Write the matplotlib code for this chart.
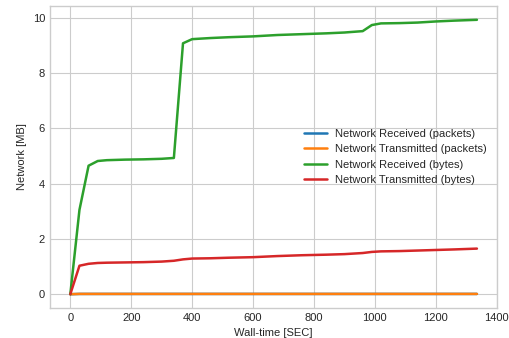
import matplotlib
matplotlib.use("Agg")
import matplotlib.pyplot as plt

plt.style.use("seaborn-v0_8-whitegrid")
plt.rcParams['font.family'] = ['Liberation Sans', 'DejaVu Sans']
plt.rcParams['font.size'] = 8

times = [0, 30, 60, 90, 120, 180, 240, 300, 340, 370, 400, 460, 520, 600,
         680, 760, 840, 900, 960, 990, 1020, 1080, 1140, 1200, 1260, 1335]
recv_packets = [0.0, 0.01, 0.01, 0.01, 0.01, 0.01, 0.01, 0.01, 0.01, 0.01, 0.01,
                0.01, 0.01, 0.01, 0.01, 0.01, 0.01, 0.01, 0.01, 0.01, 0.01, 0.01,
                0.01, 0.01, 0.01, 0.01]
trans_packets = [0.0, 0.01, 0.01, 0.01, 0.01, 0.01, 0.01, 0.01, 0.01, 0.01, 0.01,
                 0.01, 0.01, 0.01, 0.01, 0.01, 0.01, 0.01, 0.01, 0.01, 0.01, 0.01,
                 0.01, 0.01, 0.01, 0.01]
recv_bytes = [0, 3.05, 4.65, 4.82, 4.85, 4.87, 4.88, 4.90, 4.93, 9.08, 9.23,
              9.27, 9.30, 9.33, 9.38, 9.41, 9.44, 9.47, 9.52, 9.74, 9.80, 9.81,
              9.83, 9.87, 9.90, 9.93]
trans_bytes = [0, 1.03, 1.10, 1.13, 1.14, 1.15, 1.16, 1.18, 1.21, 1.26, 1.29,
               1.30, 1.32, 1.34, 1.38, 1.41, 1.43, 1.45, 1.49, 1.53, 1.55, 1.56,
               1.58, 1.60, 1.62, 1.65]
labels = ["Network Received (packets)", "Network Transmitted (packets)",
          "Network Received (bytes)", "Network Transmitted (bytes)"]

fig = plt.figure(figsize=(5.1, 3.38), dpi=100)
ax = fig.add_axes([0.098, 0.089, 0.877, 0.893])
for series, lab in zip([recv_packets, trans_packets, recv_bytes, trans_bytes], labels):
    ax.plot(times, series, lw=1.8, label=lab)

ax.set_xlabel("Wall-time [SEC]")
ax.set_ylabel("Network [MB]")
ax.legend(loc="center right", frameon=False)
for s in ax.spines.values():
    s.set_color('0.8')
fig.savefig("out.png", dpi=100)
